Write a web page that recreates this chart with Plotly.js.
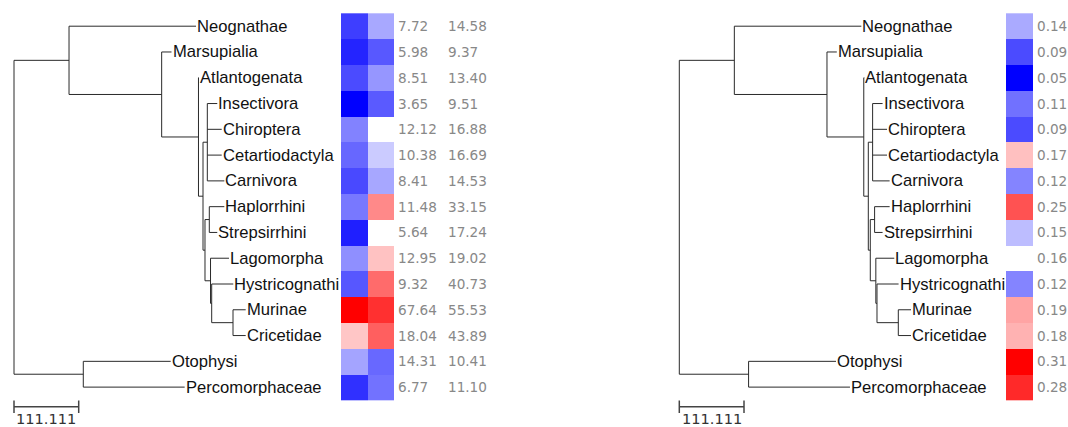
<!DOCTYPE html>
<html><head><meta charset="utf-8">
<script src="https://cdn.plot.ly/plotly-3.0.1.min.js"></script>
<style>html,body{margin:0;padding:0;background:#fff;}#chart{width:1068px;height:427px;}</style>
</head><body><div id="chart"></div>
<script>
// ---------------- data ----------------
const newickTree = "((Neognathae:218.1,(Marsupialia:16.9,(Atlantogenata:0.9,((Insectivora:17.1,Chiroptera:24.7,Cetartiodactyla:24.7,Carnivora:29.2):7.4,((Haplorrhini:25.8,Strepsirrhini:13.7):7.4,(Lagomorpha:31.7,(Hystricognathi:37.1,(Murinae:21.8,Cricetidae:21.8):36.6):2):9.5):3.4):7.8):63.2):159.1):94.5,(Otophysi:150.1,Percomorphaceae:174.1):119);";
const taxa = ["Neognathae","Marsupialia","Atlantogenata","Insectivora","Chiroptera","Cetartiodactyla","Carnivora","Haplorrhini","Strepsirrhini","Lagomorpha","Hystricognathi","Murinae","Cricetidae","Otophysi","Percomorphaceae"];
const leftValsA = [7.72,5.98,8.51,3.65,12.12,10.38,8.41,11.48,5.64,12.95,9.32,67.64,18.04,14.31,6.77];
const leftValsB = [14.58,9.37,13.40,9.51,16.88,16.69,14.53,33.15,17.24,19.02,40.73,55.53,43.89,10.41,11.10];
const rightVals = [0.14,0.09,0.05,0.11,0.09,0.17,0.12,0.25,0.15,0.16,0.12,0.19,0.18,0.31,0.28];
const leftCenter = 17.06;
const rightCenter = 0.16;
const scaleBarLength = 111.111;

// ---------------- tree parsing / layout ----------------
function parseNewick(s){
  let i=0;
  function node(){
    const n={children:[],name:'',len:0};
    if(s[i]==='('){
      i++;
      n.children.push(node());
      while(s[i]===','){i++; n.children.push(node());}
      i++;
    }
    let name='';
    while(i<s.length && !',():;'.includes(s[i])){name+=s[i];i++;}
    n.name=name.trim();
    if(s[i]===':'){i++; let num=''; while(i<s.length && !',();'.includes(s[i])){num+=s[i];i++;} n.len=parseFloat(num);}
    return n;
  }
  return node();
}
const root = parseNewick(newickTree);
root.len = 0;
function layoutTree(n,x0){
  n.x = x0 + n.len;
  if(!n.children.length){ n.y = taxa.indexOf(n.name); }
  else { n.children.forEach(c=>layoutTree(c,n.x)); n.y=(n.children[0].y+n.children[n.children.length-1].y)/2; }
}
layoutTree(root,0);
const segX=[], segY=[], tips=[];
function collect(n){
  if(n.children.length){
    const f=n.children[0], l=n.children[n.children.length-1];
    segX.push(n.x,n.x,null); segY.push(f.y,l.y,null);
    n.children.forEach(c=>{ segX.push(n.x,c.x,null); segY.push(c.y,c.y,null); collect(c); });
  } else tips.push(n);
}
collect(root);

// ---------------- geometry (pixels) ----------------
const W=1068, H=427;
const rowPx=25.78, row0Px=26.2;
const pxPerUnit=0.5823;
const rootLeftPx=14, rootRightPx=679.3;
const rowOf = px => (px-row0Px)/rowPx;

const treeAxis = (x0,x1,rootPx)=>({domain:[x0/W,x1/W],range:[(x0-rootPx)/pxPerUnit,(x1-rootPx)/pxPerUnit],visible:false,fixedrange:true});
const hmLeftX0=341, hmLeftCell=26.5, hmLeftX1=540;
const hmRightX0=1006, hmRightCell=27, hmRightX1=1068;

function divScale(zmin,zmax,c,band){
  const p=v=>Math.min(1,Math.max(0,(v-zmin)/(zmax-zmin)));
  return [[0,'rgb(0,0,255)'],[p(c-band),'rgb(200,200,255)'],[p(c-band*0.5),'rgb(255,255,255)'],
          [p(c+band*0.5),'rgb(255,255,255)'],[p(c+band),'rgb(255,200,200)'],[1,'rgb(255,0,0)']];
}
const lAll = leftValsA.concat(leftValsB);
const lMin=Math.min(...lAll), lMax=Math.max(...lAll);
const rMin=Math.min(...rightVals), rMax=Math.max(...rightVals);

const lineStyle={color:'#2a2a2a',width:1};
const traces=[
  {type:'scatter',mode:'lines',x:segX,y:segY,xaxis:'x',yaxis:'y',line:lineStyle,hoverinfo:'skip'},
  {type:'scatter',mode:'lines',x:segX,y:segY,xaxis:'x3',yaxis:'y',line:lineStyle,hoverinfo:'skip'},
  {type:'heatmap',z:taxa.map((t,i)=>[leftValsA[i],leftValsB[i]]),x:[0,1],y:taxa.map((t,i)=>i),
   xaxis:'x2',yaxis:'y',zmin:lMin,zmax:lMax,colorscale:divScale(lMin,lMax,leftCenter,0.38),showscale:false,hoverinfo:'skip'},
  {type:'heatmap',z:rightVals.map(v=>[v]),x:[0],y:taxa.map((t,i)=>i),
   xaxis:'x4',yaxis:'y',zmin:rMin,zmax:rMax,colorscale:divScale(rMin,rMax,rightCenter,0.004),showscale:false,hoverinfo:'skip'}
];
const sbY=rowOf(406.7), sbT0=rowOf(400.5), sbT1=rowOf(413);
['x','x3'].forEach(ax=>{
  traces.push({type:'scatter',mode:'lines',xaxis:ax,yaxis:'y',hoverinfo:'skip',line:{color:'#444',width:1.5},
    x:[0,scaleBarLength,null,0,0,null,scaleBarLength,scaleBarLength],
    y:[sbY,sbY,null,sbT0,sbT1,null,sbT0,sbT1]});
});

const annotations=[];
const labFont={family:'Liberation Sans, Arial, sans-serif',size:16.6,color:'#111'};
const valFont={family:'DejaVu Sans, sans-serif',size:13.6,color:'#888'};
['x','x3'].forEach(ax=>{
  tips.forEach(t=>annotations.push({xref:ax,yref:'y',x:t.x,y:t.y,text:t.name,showarrow:false,xanchor:'left',yanchor:'middle',xshift:-1,font:labFont}));
  annotations.push({xref:ax,yref:'y',x:scaleBarLength/2,y:rowOf(H),text:scaleBarLength.toFixed(3),showarrow:false,xanchor:'center',yanchor:'bottom',borderpad:0,borderwidth:0,font:{family:'DejaVu Sans, sans-serif',size:14.6,color:'#333'}});
});
const lt1 = 1.5 + 3.7/hmLeftCell, lt2 = lt1 + 50/hmLeftCell;
taxa.forEach((t,i)=>{
  annotations.push({xref:'x2',yref:'y',x:lt1,y:i,text:leftValsA[i].toFixed(2),showarrow:false,xanchor:'left',yanchor:'middle',xshift:-2,font:valFont});
  annotations.push({xref:'x2',yref:'y',x:lt2,y:i,text:leftValsB[i].toFixed(2),showarrow:false,xanchor:'left',yanchor:'middle',xshift:-2,font:valFont});
  annotations.push({xref:'x4',yref:'y',x:0.5+3.7/hmRightCell,y:i,text:rightVals[i].toFixed(2),showarrow:false,xanchor:'left',yanchor:'middle',xshift:-2,font:valFont});
});

const layout={
  width:W,height:H,margin:{l:0,r:0,t:0,b:0},paper_bgcolor:'#fff',plot_bgcolor:'rgba(0,0,0,0)',showlegend:false,
  yaxis:{domain:[0,1],range:[rowOf(H),rowOf(0)],visible:false,fixedrange:true},
  xaxis:treeAxis(0,340,rootLeftPx),
  xaxis3:treeAxis(660,1000,rootRightPx),
  xaxis2:{domain:[hmLeftX0/W,hmLeftX1/W],range:[-0.5,-0.5+(hmLeftX1-hmLeftX0)/hmLeftCell],visible:false,fixedrange:true},
  xaxis4:{domain:[hmRightX0/W,hmRightX1/W],range:[-0.5,-0.5+(hmRightX1-hmRightX0)/hmRightCell],visible:false,fixedrange:true},
  annotations:annotations
};
Plotly.newPlot('chart',traces,layout,{staticPlot:true,displayModeBar:false});
</script></body></html>
